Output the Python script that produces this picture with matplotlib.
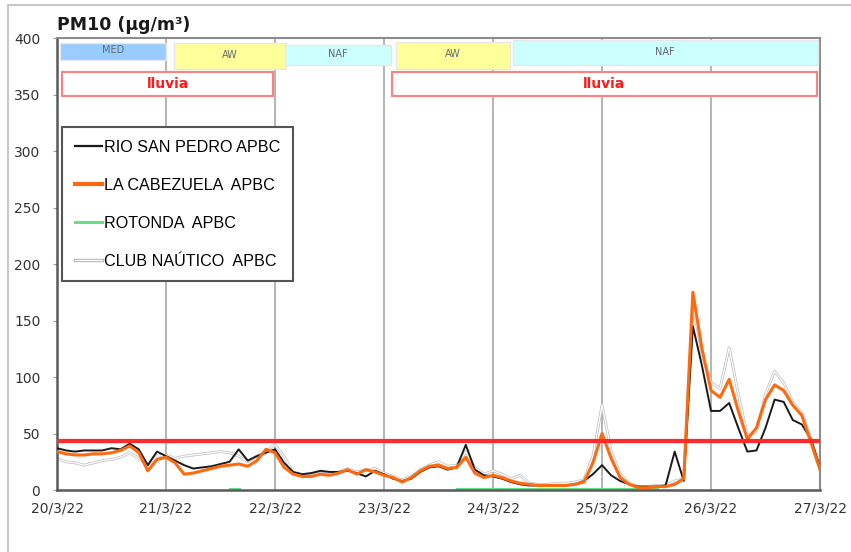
import matplotlib

matplotlib.use("Agg")

import matplotlib.pyplot as plt  # noqa: E402
import matplotlib.patheffects as pe  # noqa: E402
import numpy as np  # noqa: E402
from matplotlib.lines import Line2D  # noqa: E402
from matplotlib.patches import Rectangle  # noqa: E402

# ─── Data (2-hourly values, 20/3/22 00h -> 27/3/22 00h) ─────────────────────

hours = np.arange(0, 169, 2)

rio_san_pedro = [
    37, 35, 34, 35, 35, 35, 37, 36, 41, 36, 22, 34,
    30, 26, 22, 19, 20, 21, 23, 25, 36, 26, 30, 33,
    36, 24, 16, 14, 15, 17, 16, 16, 17, 15, 12, 17,
    14, 10, 8, 10, 16, 20, 21, 18, 20, 40, 18, 13,
    12, 10, 7, 5, 4, 4, 4, 4, 4, 5, 8, 14,
    22, 13, 8, 5, 3, 3, 3, 4, 34, 8, 145, 110,
    70, 70, 77, 55, 34, 35, 55, 80, 78, 62, 58, 45, 20,
]

la_cabezuela = [
    34, 32, 31, 31, 32, 32, 33, 35, 39, 33, 17, 27,
    29, 24, 14, 15, 17, 19, 21, 22, 23, 21, 26, 36,
    33, 20, 14, 12, 12, 14, 13, 15, 18, 14, 18, 16,
    13, 11, 7, 11, 17, 21, 22, 19, 20, 29, 15, 11,
    13, 11, 8, 6, 5, 4, 4, 4, 4, 5, 7, 24,
    50, 28, 11, 5, 2, 2, 3, 3, 5, 10, 175, 125,
    88, 82, 98, 70, 45, 55, 80, 93, 88, 75, 66, 42, 18,
]

rotonda = [np.nan] * 19 + [1, 1] + [np.nan] * 23 + [1] * 23 + [np.nan] * 18

club_nautico = [
    28, 25, 24, 22, 24, 26, 27, 29, 33, 28, 22, 30,
    31, 28, 30, 31, 32, 33, 34, 33, 30, 25, 30, 34,
    40, 30, 15, 13, 13, 15, 14, 16, 19, 16, 18, 19,
    15, 12, 9, 12, 18, 22, 25, 21, 22, 34, 20, 14,
    17, 14, 10, 13, 6, 5, 5, 6, 6, 7, 9, 30,
    75, 35, 14, 6, 3, 3, 4, 4, 8, 10, 165, 120,
    95, 90, 126, 85, 48, 52, 85, 105, 95, 78, 68, 45, 20,
]

limit_value = 43

day_labels = ["20/3/22", "21/3/22", "22/3/22", "23/3/22",
              "24/3/22", "25/3/22", "26/3/22", "27/3/22"]
y_ticks = [0, 50, 100, 150, 200, 250, 300, 350, 400]

# air-mass episodes (days from 20/3/22 00h)
episode_labels = ["MED", "AW", "NAF", "AW", "NAF"]
episode_start = [0.03, 1.07, 2.09, 3.11, 4.18]
episode_end = [1.00, 2.10, 3.06, 4.16, 6.98]

rain_label = "lluvia"
rain_start = [0.05, 3.07]
rain_end = [1.98, 6.97]

EPISODE_COLORS = {"MED": "#99ccff", "AW": "#ffff99", "NAF": "#ccffff"}
# vertical extent of each episode box (bottom, top) in chart units
EPISODE_Y = [(380.5, 395.6), (372.6, 395.6), (376.0, 393.8),
             (372.6, 396.5), (376.0, 398.0)]

days = hours / 24.0

fig = plt.figure(figsize=(8.51, 5.52), dpi=100)
ax = fig.add_axes([0.067, 0.1123, 0.8966, 0.8188])

# figure frame remains (top + left)
fig.add_artist(Line2D([8 / 851, 1.0], [1 - 5 / 552, 1 - 5 / 552],
                      transform=fig.transFigure, color="#c8c8c8", lw=1.5))
fig.add_artist(Line2D([8 / 851, 8 / 851], [0.0, 1 - 5 / 552],
                      transform=fig.transFigure, color="#c8c8c8", lw=1.5))

for d in range(1, 7):
    ax.axvline(d, color="#a8a8a8", lw=1.2, zorder=0)

ax.plot(days, club_nautico, color="white", lw=0.9, zorder=2,
        path_effects=[pe.Stroke(linewidth=2.0, foreground="#c0c0c0"), pe.Normal()])
ax.plot(days, rotonda, color="#66dd88", lw=2.2, zorder=2)
ax.plot(days, rio_san_pedro, color="#1a1a1a", lw=1.4, zorder=3)
ax.plot(days, la_cabezuela, color="#ff6a10", lw=2.2, zorder=4)
ax.axhline(limit_value, color="#ff2a2a", lw=3, zorder=5)

# episode boxes
for lab, x0, x1, (y0, y1) in zip(episode_labels, episode_start, episode_end, EPISODE_Y):
    ax.add_patch(Rectangle((x0, y0), x1 - x0, y1 - y0,
                           facecolor=EPISODE_COLORS[lab], edgecolor="#e6e6e6",
                           lw=1, zorder=6))
    ax.text((x0 + x1) / 2, (y0 + y1) / 2 + 1, lab, ha="center", va="center",
            fontsize=7, color="#606878", zorder=7)

# rain boxes
for x0, x1 in zip(rain_start, rain_end):
    ax.add_patch(Rectangle((x0, 348.5), x1 - x0, 21.5, facecolor="white",
                           edgecolor="#ff8080", lw=1.5, zorder=6))
    ax.text((x0 + x1) / 2, 359.5, rain_label, ha="center", va="center",
            fontsize=10, fontweight="bold", color="#ff1a1a", zorder=7)

ax.set_xlim(0, 7)
ax.set_ylim(0, 400)
ax.set_xticks(range(8))
ax.set_xticklabels(day_labels)
ax.set_yticks(y_ticks)
ax.tick_params(axis="x", length=0, pad=8, labelsize=10, labelcolor="#333333")
ax.tick_params(axis="y", length=3, pad=9, labelsize=10, labelcolor="#333333",
               color="#999999")
for side in ["top", "right"]:
    ax.spines[side].set_color("#8c8c8c")
    ax.spines[side].set_linewidth(1.5)
for side in ["left", "bottom"]:
    ax.spines[side].set_color("#5a5a5a")
    ax.spines[side].set_linewidth(1.8)

fig.text(0.067, 1 - 25 / 552, "PM10 (\u00b5g/m\u00b3)", fontsize=12.5,
         fontweight="bold", va="center", ha="left", color="#1a1a1a")

handles = [
    Line2D([], [], color="#1a1a1a", lw=1.6),
    Line2D([], [], color="#ff6a10", lw=3),
    Line2D([], [], color="#66dd88", lw=2.2),
    Line2D([], [], color="white", lw=0.9,
           path_effects=[pe.Stroke(linewidth=2.4, foreground="#b4b4b4"), pe.Normal()]),
]
labels = ["RIO SAN PEDRO APBC", "LA CABEZUELA  APBC", "ROTONDA  APBC",
          "CLUB NA\u00daTICO  APBC"]
leg = ax.legend(handles, labels, loc="upper left", bbox_to_anchor=(0.0066, 0.803),
                prop={"family": "Liberation Sans", "size": 11.6},
                handlelength=1.7, handletextpad=0.1, labelspacing=1.42,
                borderpad=0.8, borderaxespad=0, fancybox=False, framealpha=1)
leg.get_frame().set_edgecolor("#555555")
leg.get_frame().set_linewidth(1.5)
leg.set_zorder(8)

fig.savefig("out.png", dpi=100)
plt.close(fig)
